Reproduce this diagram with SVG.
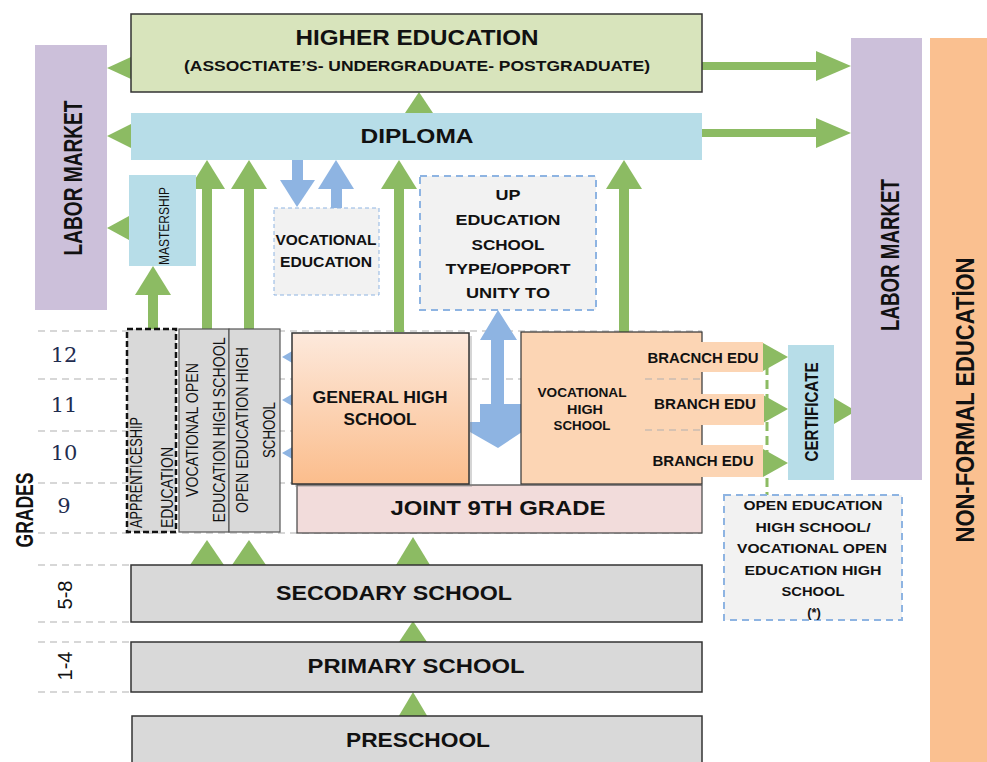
<svg xmlns="http://www.w3.org/2000/svg" width="987" height="762" viewBox="0 0 987 762">
<defs>
<linearGradient id="gGen" x1="0" y1="0" x2="0" y2="1">
<stop offset="0" stop-color="#fde9dc"/>
<stop offset="1" stop-color="#fbbd8c"/>
</linearGradient>
<style>
.t{font-family:"Liberation Sans","Arial",sans-serif;font-weight:700;fill:#111;text-anchor:middle}
.r{font-family:"Liberation Sans","Arial",sans-serif;font-weight:400;fill:#111}
.n{font-family:"DejaVu Serif","Liberation Serif",serif;fill:#1f2d4f;text-anchor:middle}
.grid{stroke:#b0b0b0;stroke-width:1.2;stroke-dasharray:7 5;fill:none}
.gr{fill:#8cbb63}
.bl{fill:#8eb4e2}
.box{stroke:#333;stroke-width:1.5}
</style>
</defs>
<rect width="987" height="762" fill="#fff"/>

<!-- grade grid lines -->
<g id="grid">
<line class="grid" x1="38" y1="331" x2="702" y2="331"/>
<line class="grid" x1="38" y1="379" x2="702" y2="379"/>
<line class="grid" x1="38" y1="431" x2="702" y2="431"/>
<line class="grid" x1="38" y1="483" x2="300" y2="483"/>
<line class="grid" x1="38" y1="533" x2="702" y2="533"/>
<line class="grid" x1="38" y1="565" x2="131" y2="565"/>
<line class="grid" x1="38" y1="622" x2="131" y2="622"/>
<line class="grid" x1="38" y1="642" x2="131" y2="642"/>
<line class="grid" x1="38" y1="692" x2="131" y2="692"/>
</g>

<!-- connectors -->
<g id="connectors">
<polygon class="gr" points="131,57 107,68 131,79"/>
<polygon class="gr" points="131,124 107,136 131,148"/>
<polygon class="gr" points="129,216 107,228 129,240"/>
<rect class="gr" x="702" y="62" width="116" height="8"/>
<polygon class="gr" points="816,51 851,66 816,81"/>
<rect class="gr" x="702" y="129" width="116" height="8"/>
<polygon class="gr" points="816,118 851,133 816,148"/>
<polygon class="gr" points="405,113 419,92 433,113"/>
<rect class="gr" x="148" y="292" width="10" height="38"/>
<polygon class="gr" points="135,295 153,266 171,295"/>
<rect class="gr" x="202" y="186" width="10" height="144"/>
<polygon class="gr" points="189,189 207,160 225,189"/>
<rect class="gr" x="244" y="186" width="10" height="144"/>
<polygon class="gr" points="231,189 249,160 267,189"/>
<rect class="gr" x="394" y="186" width="10" height="146"/>
<polygon class="gr" points="381,189 399,160 417,189"/>
<rect class="gr" x="619" y="186" width="10" height="146"/>
<polygon class="gr" points="606,189 624,160 642,189"/>
<rect class="bl" x="292" y="160" width="11" height="22"/>
<polygon class="bl" points="280,180 315,180 297,207"/>
<rect class="bl" x="331" y="186" width="11" height="22"/>
<polygon class="bl" points="318,189 336,160 354,189"/>
<polygon class="bl" points="480,340 498,310 517,340 504,340 504,404 517,404 522,404 522,432 498,448 470,432 470,422 480,422 480,404 491,404 491,340"/>
<polygon class="bl" points="294,350 282,357 294,364"/>
<polygon class="bl" points="294,393 282,400 294,407"/>
<polygon class="bl" points="294,446 282,453 294,460"/>
<line x1="767" y1="352" x2="767" y2="497" stroke="#8cbb63" stroke-width="3" stroke-dasharray="9 5"/>
<polygon class="gr" points="763,343 788,357 763,371"/>
<polygon class="gr" points="763,395 788,409 763,423"/>
<polygon class="gr" points="763,449 788,463 763,477"/>
<polygon class="gr" points="834,398 856,411 834,424"/>
<polygon class="gr" points="190,565 207,540 224,565"/>
<polygon class="gr" points="232,565 249,540 266,565"/>
<polygon class="gr" points="396,565 413,537 430,565"/>
<polygon class="gr" points="399,642 413,621 427,642"/>
<polygon class="gr" points="397,719 413,692 429,719"/>
</g>

<g id="labor-left">
<rect x="35" y="45" width="72" height="265" fill="#ccc0da"/>
<text class="t" font-size="25" textLength="155" lengthAdjust="spacingAndGlyphs" transform="translate(82 178) rotate(-90)">LABOR MARKET</text>
</g>

<g id="higher-education">
<rect class="box" x="131" y="14" width="571" height="78" fill="#d8e4bc"/>
<text class="t" x="417" y="45" font-size="22" textLength="243" lengthAdjust="spacingAndGlyphs">HIGHER EDUCATION</text>
<text class="t" x="417" y="71" font-size="14" textLength="466" lengthAdjust="spacingAndGlyphs">(ASSOCTIATE’S- UNDERGRADUATE- POSTGRADUATE)</text>
</g>

<g id="diploma">
<rect x="131" y="113" width="571" height="47" fill="#b7dde8"/>
<text class="t" x="417" y="143" font-size="21" textLength="113" lengthAdjust="spacingAndGlyphs">DIPLOMA</text>
</g>

<g id="labor-right">
<rect x="851" y="38" width="71" height="442" fill="#ccc0da"/>
<text class="t" font-size="25" textLength="152" lengthAdjust="spacingAndGlyphs" transform="translate(899 255) rotate(-90)">LABOR MARKET</text>
</g>

<g id="non-formal">
<rect x="930" y="38" width="57" height="724" fill="#fac090"/>
<text class="t" font-size="26" textLength="285" lengthAdjust="spacingAndGlyphs" transform="translate(974 400) rotate(-90)">NON-FORMAL EDUCATİON</text>
</g>

<g id="mastership">
<rect x="129" y="175" width="67" height="91" fill="#b7dde8"/>
<text class="r" font-size="15" text-anchor="middle" textLength="78" lengthAdjust="spacingAndGlyphs" transform="translate(169 226) rotate(-90)">MASTERSHIP</text>
</g>

<g id="vocational-education">
<rect x="274" y="208" width="105" height="87" fill="#f2f2f2" stroke="#8eb4e2" stroke-width="1" stroke-dasharray="4 3"/>
<text class="t" x="326" y="245" font-size="14" textLength="101" lengthAdjust="spacingAndGlyphs">VOCATIONAL</text>
<text class="t" x="326" y="267" font-size="14" textLength="92" lengthAdjust="spacingAndGlyphs">EDUCATION</text>
</g>

<g id="up-education">
<rect x="420" y="176" width="176" height="134" fill="#f2f2f2" stroke="#8eb4e2" stroke-width="2" stroke-dasharray="7 5"/>
<text class="t" x="508" y="200" font-size="15" textLength="25" lengthAdjust="spacingAndGlyphs">UP</text>
<text class="t" x="508" y="225" font-size="15" textLength="105" lengthAdjust="spacingAndGlyphs">EDUCATION</text>
<text class="t" x="508" y="250" font-size="15" textLength="73" lengthAdjust="spacingAndGlyphs">SCHOOL</text>
<text class="t" x="508" y="274" font-size="15" textLength="125" lengthAdjust="spacingAndGlyphs">TYPE/OPPORT</text>
<text class="t" x="508" y="298" font-size="15" textLength="84" lengthAdjust="spacingAndGlyphs">UNITY TO</text>
</g>

<g id="grades">
<text class="n" x="64" y="362" font-size="21">12</text>
<text class="n" x="64" y="412" font-size="21">11</text>
<text class="n" x="64" y="460" font-size="21">10</text>
<text class="n" x="64" y="513" font-size="21">9</text>
<text class="r" font-size="20" text-anchor="middle" transform="translate(72 595) rotate(-90)">5-8</text>
<text class="r" font-size="20" text-anchor="middle" transform="translate(72 666) rotate(-90)">1-4</text>
<text class="t" font-size="24" textLength="75" lengthAdjust="spacingAndGlyphs" transform="translate(33 510) rotate(-90)">GRADES</text>
</g>

<g id="apprenticeship">
<rect x="127" y="329" width="49" height="203" fill="#d9d9d9" stroke="#111" stroke-width="2.5" stroke-dasharray="6 3"/>
<text class="r" font-size="16" textLength="111" lengthAdjust="spacingAndGlyphs" transform="translate(142 528) rotate(-90)">APPRENTICESHIP</text>
<text class="r" font-size="16" textLength="81" lengthAdjust="spacingAndGlyphs" transform="translate(173 528) rotate(-90)">EDUCATION</text>
</g>

<g id="vocational-open">
<rect x="179" y="329" width="50" height="203" fill="#d9d9d9" stroke="#555" stroke-width="1.2"/>
<text class="r" font-size="16" text-anchor="middle" textLength="134" lengthAdjust="spacingAndGlyphs" transform="translate(198 430) rotate(-90)">VOCATIONAL OPEN</text>
<text class="r" font-size="16" text-anchor="middle" textLength="185" lengthAdjust="spacingAndGlyphs" transform="translate(225 430) rotate(-90)">EDUCATION HIGH SCHOOL</text>
</g>

<g id="open-education">
<rect x="229" y="329" width="51" height="203" fill="#d9d9d9" stroke="#555" stroke-width="1.2"/>
<text class="r" font-size="16" text-anchor="middle" textLength="166" lengthAdjust="spacingAndGlyphs" transform="translate(248 430) rotate(-90)">OPEN EDUCATION HIGH</text>
<text class="r" font-size="16" text-anchor="middle" textLength="56" lengthAdjust="spacingAndGlyphs" transform="translate(275 430) rotate(-90)">SCHOOL</text>
</g>

<g id="joint-9th">
<rect x="297" y="485" width="405" height="48" fill="#f2dcdb" stroke="#444" stroke-width="1.2"/>
<text class="t" x="498" y="515" font-size="21" textLength="215" lengthAdjust="spacingAndGlyphs">JOINT 9TH GRADE</text>
</g>

<g id="general-high-school">
<rect x="295" y="336" width="177" height="151" fill="#888" opacity="0.35"/>
<rect class="box" x="292" y="333" width="177" height="151" fill="url(#gGen)"/>
<text class="t" x="380" y="403" font-size="16" textLength="135" lengthAdjust="spacingAndGlyphs">GENERAL HIGH</text>
<text class="t" x="380" y="425" font-size="16" textLength="73" lengthAdjust="spacingAndGlyphs">SCHOOL</text>
</g>

<g id="vocational-high-school">
<rect x="521" y="332" width="181" height="152" fill="#fcd5b4" stroke="#333" stroke-width="1.2"/>
<line class="grid" x1="645" y1="379" x2="702" y2="379"/>
<line class="grid" x1="645" y1="430" x2="702" y2="430"/>
<text class="t" x="582" y="397" font-size="13" textLength="89" lengthAdjust="spacingAndGlyphs">VOCATIONAL</text>
<text class="t" x="585" y="414" font-size="13" textLength="36" lengthAdjust="spacingAndGlyphs">HIGH</text>
<text class="t" x="582" y="430" font-size="13" textLength="57" lengthAdjust="spacingAndGlyphs">SCHOOL</text>
</g>

<g id="branch-1">
<rect x="645" y="342" width="118" height="30" fill="#fcd5b4"/>
<text class="t" x="703" y="363" font-size="14" textLength="111" lengthAdjust="spacingAndGlyphs">BRACNCH EDU</text>
</g>
<g id="branch-2">
<rect x="645" y="394" width="119" height="31" fill="#fcd5b4"/>
<text class="t" x="705" y="409" font-size="14" textLength="102" lengthAdjust="spacingAndGlyphs">BRANCH EDU</text>
</g>
<g id="branch-3">
<rect x="645" y="445" width="118" height="32" fill="#fcd5b4"/>
<text class="t" x="703" y="466" font-size="14" textLength="101" lengthAdjust="spacingAndGlyphs">BRANCH EDU</text>
</g>

<g id="certificate">
<rect x="788" y="345" width="46" height="135" fill="#b7dde8"/>
<text class="t" font-size="19" textLength="99" lengthAdjust="spacingAndGlyphs" transform="translate(818 412) rotate(-90)">CERTIFICATE</text>
</g>

<g id="open-education-note">
<rect x="724" y="495" width="178" height="125" fill="#f2f2f2" stroke="#8eb4e2" stroke-width="2" stroke-dasharray="7 5"/>
<text class="t" x="813" y="510" font-size="13" textLength="139" lengthAdjust="spacingAndGlyphs">OPEN EDUCATION</text>
<text class="t" x="813" y="532" font-size="13" textLength="115" lengthAdjust="spacingAndGlyphs">HIGH SCHOOL/</text>
<text class="t" x="812" y="553" font-size="13" textLength="150" lengthAdjust="spacingAndGlyphs">VOCATIONAL OPEN</text>
<text class="t" x="813" y="575" font-size="13" textLength="137" lengthAdjust="spacingAndGlyphs">EDUCATION HIGH</text>
<text class="t" x="813" y="596" font-size="13" textLength="63" lengthAdjust="spacingAndGlyphs">SCHOOL</text>
<text class="t" x="814" y="617" font-size="13">(*)</text>
</g>

<g id="secondary-school">
<rect class="box" x="131" y="565" width="571" height="57" fill="#d9d9d9"/>
<text class="t" x="394" y="600" font-size="21" textLength="236" lengthAdjust="spacingAndGlyphs">SECODARY SCHOOL</text>
</g>

<g id="primary-school">
<rect class="box" x="131" y="642" width="571" height="50" fill="#d9d9d9"/>
<text class="t" x="416" y="673" font-size="21" textLength="217" lengthAdjust="spacingAndGlyphs">PRIMARY SCHOOL</text>
</g>

<g id="preschool">
<rect class="box" x="132" y="716" width="570" height="50" fill="#d9d9d9"/>
<text class="t" x="418" y="747" font-size="21" textLength="144" lengthAdjust="spacingAndGlyphs">PRESCHOOL</text>
</g>
</svg>
